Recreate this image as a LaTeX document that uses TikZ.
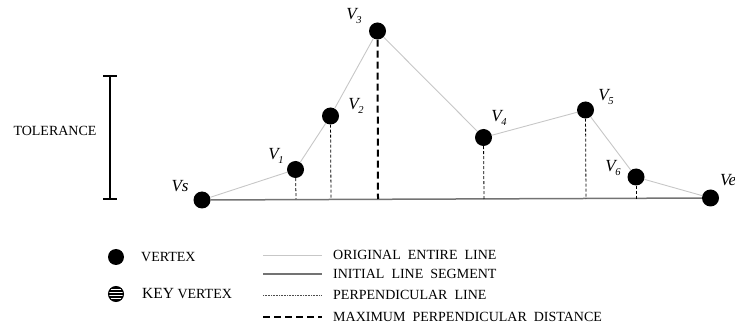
\documentclass[tikz,border=0pt]{standalone}
\usepackage{fontspec}
\setmainfont{Liberation Serif}
\begin{document}
\begin{tikzpicture}[x=1pt,y=-1pt,
 vtx/.style={circle,fill=black,inner sep=0pt,minimum size=17pt},
 orig/.style={draw=black!22,line width=0.9pt},
 seg/.style={draw=black!55,line width=1.5pt},
 perp/.style={draw=black,line width=0.8pt,dash pattern=on 3pt off 2pt},
 maxd/.style={draw=black,line width=2pt,dash pattern=on 7pt off 4pt},
 vlab/.style={font=\fontsize{17}{17}\selectfont\itshape,inner sep=0pt},
 legtxt/.style={font=\fontsize{14}{14}\selectfont,anchor=west,inner sep=0pt},
 bar/.style={line width=2.2pt}]
\useasboundingbox (0,0) rectangle (735,328);
\newcommand{\vsub}[1]{V\kern-0.5pt\raisebox{-4pt}{\fontsize{10.5}{10.5}\selectfont #1}}
% tolerance
\coordinate (tt) at (110,76);
\coordinate (tb) at (110,199);
\draw[bar] (tt) -- (tb);
\draw[bar] ([xshift=-7pt]tt) -- ([xshift=7pt]tt);
\draw[bar] ([xshift=-7pt]tb) -- ([xshift=7pt]tb);
\node[font=\fontsize{14}{14}\selectfont,inner sep=0pt] (tol) at (55,131) {TOLERANCE};
% vertices
\node[vtx] (vs) at (202,200) {};
\node[vtx] (v1) at (295.5,169.5) {};
\node[vtx] (v2) at (330.5,116) {};
\node[vtx] (v3) at (377.5,31) {};
\node[vtx] (v4) at (483.5,137.5) {};
\node[vtx] (v5) at (585.5,110) {};
\node[vtx] (v6) at (636,177) {};
\node[vtx] (ve) at (710.5,198) {};
% feet
\coordinate (f1) at (296,199);
\coordinate (f2) at (331,199);
\coordinate (f3) at (378,199);
\coordinate (f4) at (484,199);
\coordinate (f5) at (586,199);
\coordinate (f6) at (636,199);
% lines
\draw[orig] (vs) -- (v1) -- (v2) -- (v3) -- (v4) -- (v5) -- (v6) -- (ve);
\draw[seg] (vs) -- (ve);
\draw[perp] (v1) -- (f1);
\draw[perp] (v2) -- (f2);
\draw[perp] (v4) -- (f4);
\draw[perp] (v5) -- (f5);
\draw[perp] (v6) -- (f6);
\draw[maxd] (v3) -- (f3);
% labels
\node[vlab] (lvs) at (180,186) {Vs};
\node[vlab] (l1) at (276,156) {\vsub{1}};
\node[vlab] (l2) at (356,106) {\vsub{2}};
\node[vlab] (l3) at (354,16) {\vsub{3}};
\node[vlab] (l4) at (499,118) {\vsub{4}};
\node[vlab] (l5) at (606,97) {\vsub{5}};
\node[vlab] (l6) at (613,168) {\vsub{6}};
\node[vlab,anchor=west] (lve) at (720,180) {Ve};
% legend
\node[circle,fill=black,inner sep=0pt,minimum size=16pt] (lgv) at (116,257) {};
\node[legtxt] (lgvt) at (141,257) {VERTEX};
\node[circle,draw=black,line width=1pt,inner sep=0pt,minimum size=15pt,
  path picture={\foreach \d in {-6,-3,0,3,6}
    \draw[line width=1.6pt] ([xshift=-10pt,yshift=\d pt]path picture bounding box.center) -- ++(20pt,0);}]
  (lgk) at (116,294) {};
\node[legtxt] (lgkt) at (142,294) {{\fontsize{15.5}{15.5}\selectfont KEY} VERTEX};
\coordinate (a1) at (263,255); \coordinate (b1) at (322,255);
\coordinate (a2) at (263,274); \coordinate (b2) at (322,274);
\coordinate (a3) at (263,295); \coordinate (b3) at (322,295);
\coordinate (a4) at (263,317); \coordinate (b4) at (322,317);
\draw[orig] (a1) -- (b1);
\draw[seg,line width=1.1pt] (a2) -- (b2);
\draw[black!70,line width=0.6pt,dash pattern=on 1pt off 0.6pt] (a3) -- (b3);
\draw[maxd] (a4) -- (b4);
\node[legtxt] (t1) at (333,255) {ORIGINAL\ \ ENTIRE\ \ LINE};
\node[legtxt] (t2) at (333,274) {INITIAL\ \ LINE\ \ SEGMENT};
\node[legtxt] (t3) at (333,295) {PERPENDICULAR\ \ LINE};
\node[legtxt] (t4) at (333,317) {MAXIMUM\ \ PERPENDICULAR\ \ DISTANCE};
\end{tikzpicture}
\end{document}
